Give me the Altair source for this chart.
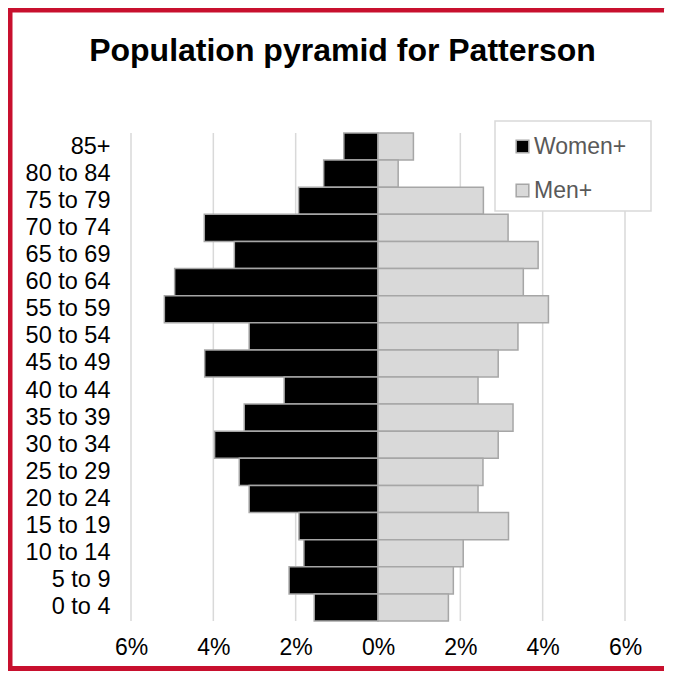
import altair as alt
import pandas as pd

ages = ["85+", "80 to 84", "75 to 79", "70 to 74", "65 to 69", "60 to 64",
        "55 to 59", "50 to 54", "45 to 49", "40 to 44", "35 to 39", "30 to 34",
        "25 to 29", "20 to 24", "15 to 19", "10 to 14", "5 to 9", "0 to 4"]
women = [0.83, 1.32, 1.93, 4.22, 3.49, 4.94, 5.19, 3.13, 4.21,
         2.28, 3.25, 3.97, 3.37, 3.13, 1.92, 1.80, 2.16, 1.55]
men = [0.86, 0.49, 2.56, 3.16, 3.89, 3.53, 4.14, 3.40, 2.92,
       2.43, 3.28, 2.92, 2.55, 2.43, 3.17, 2.07, 1.83, 1.71]
series = ["Women+", "Men+"]
tick_values = [-6, -4, -2, 0, 2, 4, 6]
title_text = "Population pyramid for Patterson"

rows = []
for a, w, m in zip(ages, women, men):
    rows.append({"age": a, "sex": "Women+", "value": -w})
    rows.append({"age": a, "sex": "Men+", "value": m})
df = pd.DataFrame(rows)
grid_df = pd.DataFrame({"value": tick_values})

FONT = "Liberation Sans"
W, H = 657, 663
RED = "#c8102e"

xscale = alt.Scale(domain=[-6, 6], range=[123, 617], nice=False, zero=False)
yscale = alt.Scale(domain=ages, range=[125, 613], paddingInner=0, paddingOuter=0)

xaxis = alt.Axis(values=tick_values, labelExpr="abs(datum.value) + '%'",
                 title=None, domain=False, ticks=False, tickSize=0,
                 grid=False, labelFlush=False, labelOverlap=False,
                 labelFont=FONT, labelFontSize=23, labelColor="#000000",
                 labelBaseline="middle", labelPadding=0, offset=-24)
yaxis = alt.Axis(title=None, domain=False, ticks=False, tickSize=0, grid=False,
                 labelFont=FONT, labelFontSize=23.5, labelColor="#000000",
                 labelPadding=0, offset=-102, labelAlign="right",
                 labelBaseline="middle", labelOverlap=False)

one = pd.DataFrame({"k": [0]})
border_left = alt.Chart(one).mark_rule(color=RED, strokeWidth=5).encode(
    x=alt.value(2), y=alt.value(0), y2=alt.value(H))
border_top = alt.Chart(one).mark_rule(color=RED, strokeWidth=5).encode(
    y=alt.value(2), x=alt.value(0), x2=alt.value(W - 1))
border_bottom = alt.Chart(one).mark_rule(color=RED, strokeWidth=5).encode(
    y=alt.value(H - 2.5), x=alt.value(0), x2=alt.value(W - 1))

gridlines = alt.Chart(grid_df).mark_rule(color="#d9d9d9", strokeWidth=1.5).encode(
    x=alt.X("value:Q", scale=xscale, axis=xaxis),
    y=alt.value(125), y2=alt.value(613),
)

legend_box = alt.Chart(one).mark_rect(
    fill="white", stroke="#d9d9d9", strokeWidth=1.5
).encode(x=alt.value(487), x2=alt.value(643), y=alt.value(113), y2=alt.value(203))

bars = alt.Chart(df).mark_bar(stroke="#a6a6a6", strokeWidth=1.5).encode(
    y=alt.Y("age:N", sort=ages, scale=yscale, axis=yaxis),
    x=alt.X("value:Q", scale=xscale, axis=xaxis, stack=None),
    color=alt.Color("sex:N", scale=alt.Scale(domain=series, range=["#000000", "#d9d9d9"]),
                    legend=alt.Legend(title=None, orient="none", legendX=503, legendY=127,
                                      symbolType="square", symbolSize=160,
                                      symbolStrokeColor="#a6a6a6", symbolStrokeWidth=1.5,
                                      labelFont=FONT, labelFontSize=23, labelColor="#595959",
                                      labelOffset=0, rowPadding=20, padding=0,
                                      labelBaseline="middle")),
)

chart = alt.layer(gridlines, legend_box, bars, border_left, border_top, border_bottom).properties(
    width=W, height=H,
    autosize=alt.AutoSizeParams(type="none"),
    padding=0,
    title=alt.Title(title_text, font=FONT, fontSize=32, fontWeight="bold",
                    color="#000000", anchor="middle", frame="group",
                    baseline="alphabetic", offset=-87, dx=6),
).configure_view(stroke=None).configure(background="white")

chart.save("out.html", embed_options={"renderer": "svg", "actions": False})
